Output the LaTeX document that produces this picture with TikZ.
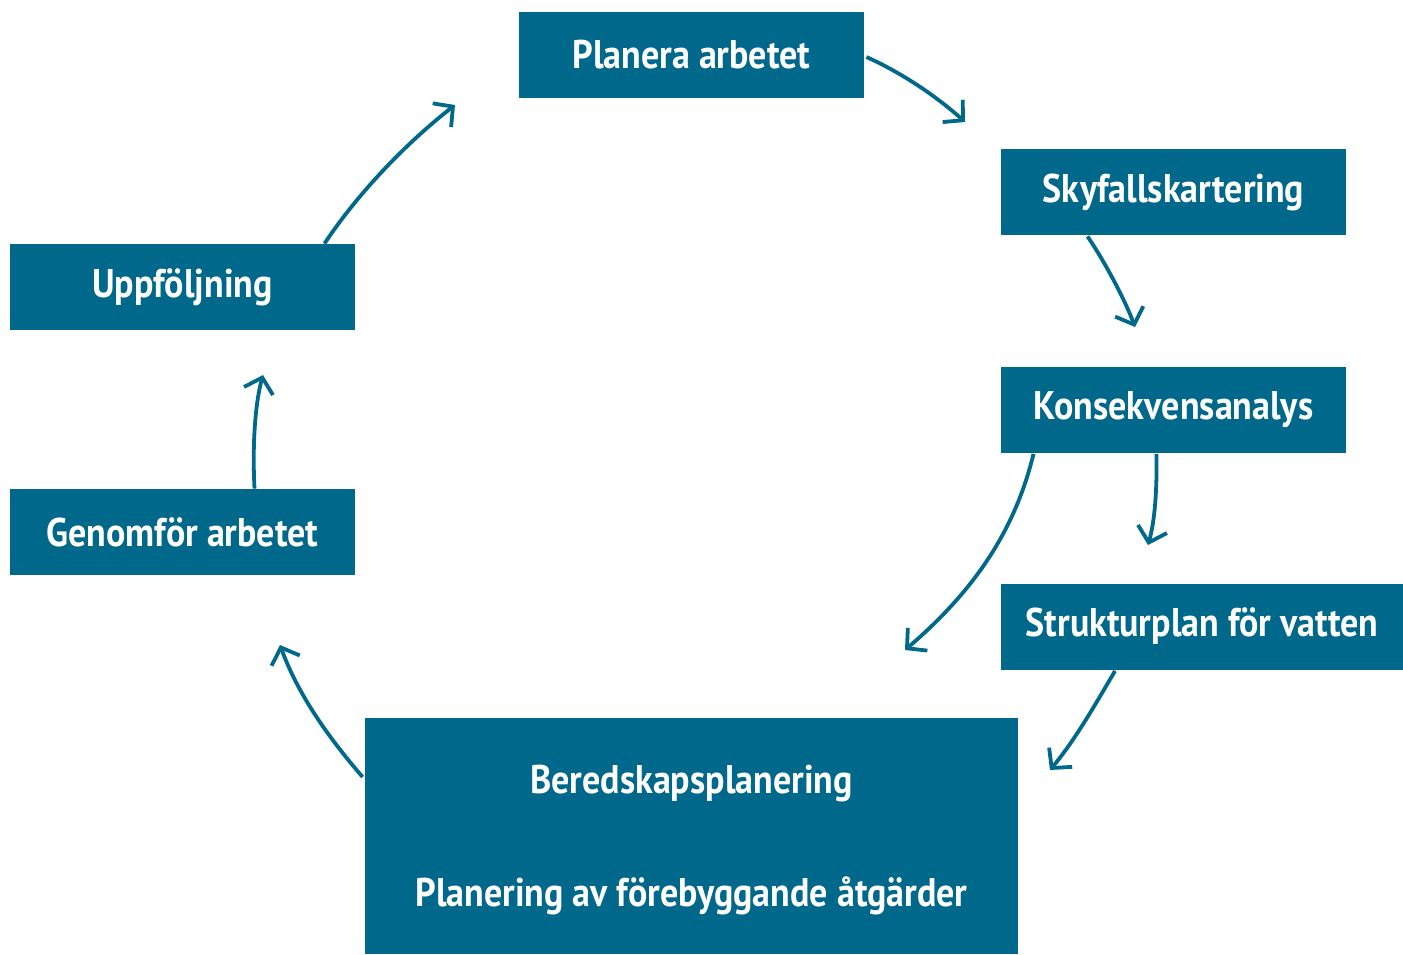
\documentclass[tikz,border=0pt]{standalone}
\usepackage{fontspec}
\setmainfont{PT Sans}[FakeStretch=0.9]
\usetikzlibrary{arrows.meta,calc}
\definecolor{teal}{RGB}{0,104,139}
\tikzset{
  box/.style={fill=teal,text=white,font=\bfseries\fontsize{20}{24}\selectfont,
    minimum width=172.5pt,minimum height=43pt,inner sep=0pt,align=center},
  conn/.style={draw=teal,line width=1.9pt,-{Straight Barb[length=7pt,width=15pt]}}
}
\begin{document}
\begin{tikzpicture}[x=0.5pt,y=-0.5pt]
\useasboundingbox (0,0) rectangle (1403,954);
\node[box] (plan) at (691.5,55) {Planera arbetet};
\node[box] (sky) at (1173.5,192) {Skyfallskartering};
\node[box] (kon) at (1173.5,409.5) {Konsekvensanalys};
\node[box,minimum width=201pt] (str) at (1202,626.5) {Strukturplan för vatten};
\node[box,minimum width=326.5pt,minimum height=118pt] (ber) at (691.5,836) {};
\node[font=\bfseries\fontsize{20}{24}\selectfont,text=white] (ber1) at (691.5,784) {Beredskapsplanering};
\node[font=\bfseries\fontsize{20}{24}\selectfont,text=white] (ber2) at (691.5,896) {Planering av förebyggande åtgärder};
\node[box] (gen) at (182.5,532) {Genomför arbetet};
\node[box] (upp) at (182.5,287) {Uppföljning};
\coordinate (e1) at (965,122);
\coordinate (e2) at (1135,327);
\coordinate (e3) at (1148,545);
\coordinate (e4) at (905,650);
\coordinate (e5) at (1050,770);
\coordinate (e6) at (280,645);
\coordinate (e7) at (263,375);
\coordinate (e8) at (455,105);
\draw[conn] ($(plan.east)+(2,2)$) .. controls (900,72) and (935,95) .. (e1);
\draw[conn] ($(sky.south)+(-86,1)$) .. controls (1105,262) and (1125,300) .. (e2);
\draw[conn] ($(kon.south)+(-17,1)$) .. controls (1157,490) and (1155,520) .. (e3);
\draw[conn] ($(kon.south)+(-140,1)$) .. controls (1015,530) and (975,590) .. (e4);
\draw[conn] ($(str.south)+(-87,1)$) .. controls (1095,705) and (1075,740) .. (e5);
\draw[conn] ($(ber.west)+(-2,-59)$) .. controls (335,745) and (300,700) .. (e6);
\draw[conn] ($(gen.north)+(72,0)$) .. controls (252,440) and (256,400) .. (e7);
\draw[conn] ($(upp.north)+(142,0)$) .. controls (360,190) and (410,140) .. (e8);
\end{tikzpicture}
\end{document}
